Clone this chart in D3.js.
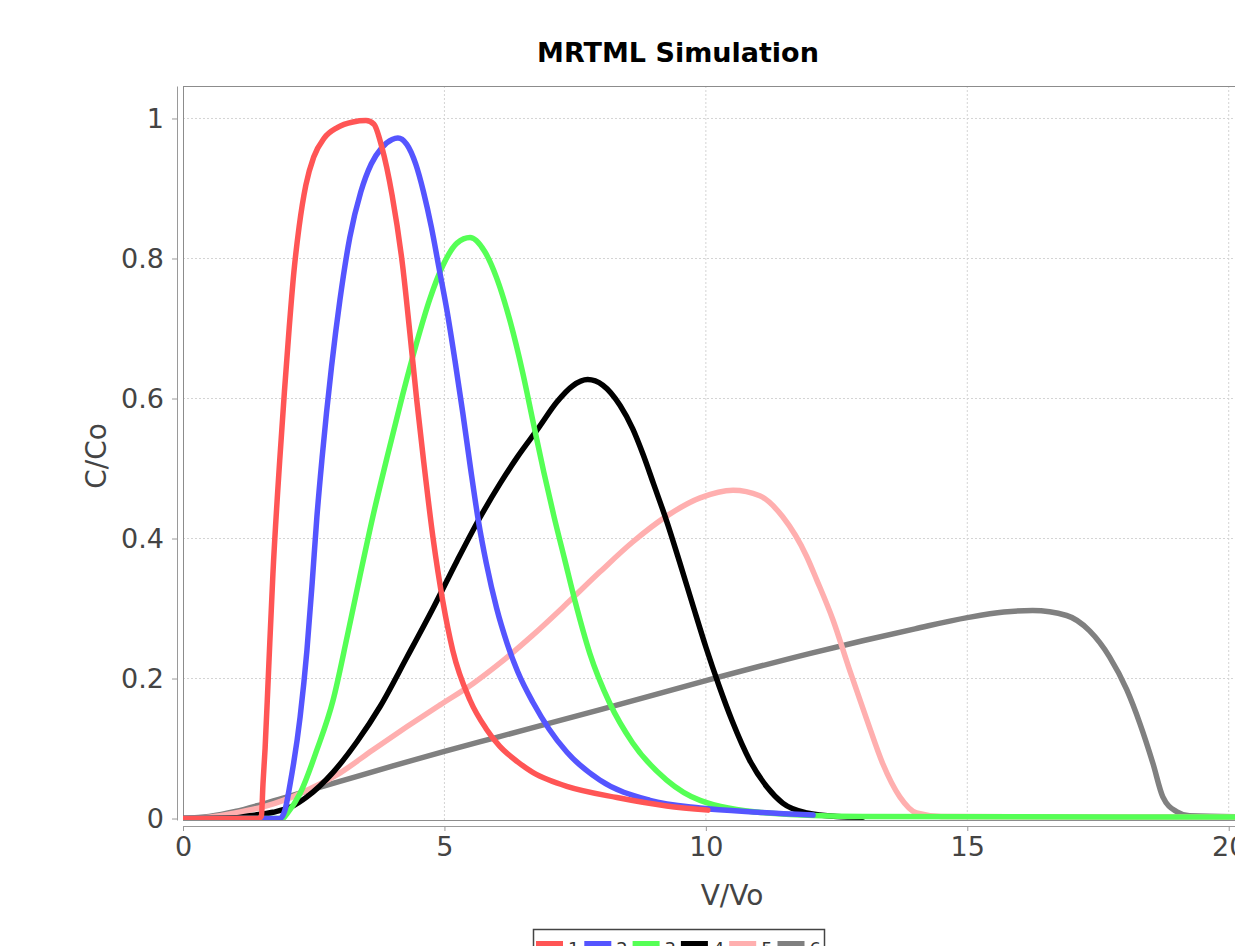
<!DOCTYPE html>
<html><head><meta charset="utf-8">
<script src="https://cdn.jsdelivr.net/npm/d3@7"></script>
<style>
html,body{margin:0;padding:0;background:#fff;overflow:hidden;}
svg{display:block;}
text{font-family:"DejaVu Sans",sans-serif;}
</style></head>
<body>
<svg id="chart" width="1235" height="946"></svg>
<script>
// ---- data ----
const titleText = "MRTML Simulation";
const xLabel = "V/Vo";
const yLabel = "C/Co";
const xTicks = [0, 5, 10, 15, 20];
const yTicks = [0, 0.2, 0.4, 0.6, 0.8, 1];
const yTickLabels = ["0", "0.2", "0.4", "0.6", "0.8", "1"];
const seriesNames = ["1", "2", "3", "4", "5", "6"];
const seriesColors = ["#ff5555", "#5555ff", "#55ff55", "#000000", "#ffafaf", "#808080"];

const s1 = [[0,0],[1.45,0],[1.5,0.004],[1.53,0.05],[1.57,0.1],[1.63,0.2],[1.72,0.35],[1.85,0.512],[1.94,0.61],[2.03,0.7],[2.12,0.78],[2.22,0.845],[2.35,0.905],[2.5,0.945],[2.7,0.972],[2.95,0.987],[3.25,0.995],[3.5,0.997],[3.65,0.992],[3.8,0.96],[4.0,0.89],[4.2,0.79],[4.34,0.693],[4.47,0.598],[4.6,0.512],[4.78,0.402],[4.97,0.31],[5.16,0.24],[5.49,0.169],[5.8,0.128],[6.06,0.103],[6.4,0.081],[6.69,0.066],[7.0,0.055],[7.34,0.046],[8.3,0.03],[9.25,0.018],[10.04,0.012]];
const s2 = [[0,0],[1.85,0],[1.95,0.012],[2.05,0.05],[2.24,0.145],[2.37,0.24],[2.47,0.336],[2.56,0.43],[2.66,0.515],[2.84,0.645],[3.0,0.74],[3.19,0.83],[3.4,0.895],[3.6,0.935],[3.8,0.958],[4.0,0.97],[4.11,0.972],[4.28,0.963],[4.45,0.935],[4.6,0.895],[4.75,0.845],[4.9,0.785],[5.05,0.725],[5.2,0.655],[5.35,0.58],[5.5,0.5],[5.65,0.425],[5.8,0.365],[6.0,0.3],[6.2,0.25],[6.4,0.21],[6.7,0.165],[7.0,0.128],[7.34,0.095],[7.97,0.055],[8.93,0.026],[9.89,0.015],[11,0.009],[12.05,0.005]];
const s3 = [[0,0],[1.9,0],[2.0,0.008],[2.24,0.036],[2.56,0.098],[2.87,0.169],[3.14,0.26],[3.38,0.345],[3.63,0.431],[3.9,0.515],[4.2,0.605],[4.47,0.68],[4.72,0.742],[4.97,0.79],[5.24,0.822],[5.49,0.83],[5.77,0.81],[6.0,0.772],[6.25,0.712],[6.5,0.636],[6.7,0.565],[6.9,0.495],[7.1,0.43],[7.3,0.37],[7.5,0.31],[7.78,0.236],[8.16,0.165],[8.6,0.108],[9.25,0.055],[9.89,0.026],[11.17,0.008],[13,0.003],[21,0.002]];
const s4 = [[0,0],[1.0,0.001],[1.28,0.004],[1.72,0.009],[2.05,0.016],[2.37,0.031],[2.87,0.066],[3.33,0.11],[3.77,0.16],[4.28,0.23],[4.78,0.3],[5.24,0.368],[5.68,0.43],[6.06,0.478],[6.4,0.517],[6.8,0.558],[7.15,0.595],[7.45,0.618],[7.74,0.627],[8.03,0.619],[8.36,0.59],[8.6,0.557],[8.8,0.52],[9.0,0.478],[9.25,0.425],[9.5,0.366],[9.75,0.305],[10.0,0.245],[10.25,0.19],[10.5,0.14],[10.84,0.083],[11.17,0.045],[11.47,0.022],[11.93,0.008],[12.5,0.003],[13,0.002]];
const s5 = [[0,0],[0.5,0.002],[1,0.008],[1.5,0.016],[2,0.028],[2.5,0.045],[3.0,0.065],[3.63,0.098],[4.28,0.131],[4.91,0.162],[5.55,0.193],[6.06,0.222],[6.69,0.262],[7.34,0.307],[7.97,0.352],[8.6,0.395],[9.25,0.432],[9.89,0.458],[10.52,0.469],[11.03,0.461],[11.47,0.431],[11.93,0.374],[12.12,0.341],[12.43,0.284],[12.75,0.212],[13.08,0.141],[13.38,0.079],[13.71,0.031],[14.03,0.008],[14.5,0.003],[21,0.002]];
const s6 = [[0,0],[0.5,0.003],[1,0.01],[1.5,0.02],[2,0.031],[3,0.053],[4,0.075],[5,0.096],[6,0.116],[8,0.156],[10,0.197],[12,0.236],[13,0.254],[14,0.271],[15,0.287],[15.7,0.295],[16.25,0.297],[16.9,0.29],[17.34,0.268],[17.72,0.231],[18.05,0.184],[18.3,0.136],[18.55,0.079],[18.74,0.031],[19.0,0.01],[19.25,0.004],[21,0.002]];
const seriesData = [s1, s2, s3, s4, s5, s6];

// ---- layout ----
const svg = d3.select("#chart");
const plotL = 183, plotT = 86, plotB = 820, plotR = 1281;
const x = d3.scaleLinear().domain([0, 21]).range([plotL, plotR]);
const y = d3.scaleLinear().domain([-0.0021, 1.0464]).range([plotB, plotT]);

svg.append("defs").append("clipPath").attr("id","clip")
  .append("rect").attr("x",plotL).attr("y",plotT).attr("width",plotR-plotL).attr("height",plotB-plotT);

// grid
const grid = svg.append("g");
grid.selectAll(".vg").data(xTicks.filter(d=>d>0)).enter().append("line")
  .attr("x1",d=>x(d)).attr("x2",d=>x(d)).attr("y1",plotT).attr("y2",plotB)
  .attr("stroke","#d4d4d4").attr("stroke-width",1).attr("stroke-dasharray","2,2");
grid.selectAll(".hg").data(yTicks.filter(d=>d>0)).enter().append("line")
  .attr("x1",plotL).attr("x2",plotR).attr("y1",d=>y(d)).attr("y2",d=>y(d))
  .attr("stroke","#d4d4d4").attr("stroke-width",1).attr("stroke-dasharray","2,2");

// plot frame
svg.append("rect").attr("x",plotL+0.5).attr("y",plotT+0.5).attr("width",plotR-plotL).attr("height",plotB-plotT)
  .attr("fill","none").attr("stroke","#8c8c8c").attr("stroke-width",1);

// axes
const xAxis = d3.axisBottom(x).tickValues(xTicks).tickFormat(d3.format("d")).tickSizeInner(5).tickSizeOuter(0).tickPadding(6);
const gx = svg.append("g").attr("transform",`translate(0,${plotB+6})`).call(xAxis);
gx.select(".domain").attr("stroke","#9a9a9a");
gx.selectAll(".tick line").attr("stroke","#9a9a9a");
gx.selectAll(".tick text").attr("font-family","DejaVu Sans").attr("font-size",27).attr("fill","#444");

const yAxis = d3.axisLeft(y).tickValues(yTicks).tickFormat((d,i)=>yTickLabels[i]).tickSizeInner(5).tickSizeOuter(0).tickPadding(8);
const gy = svg.append("g").attr("transform",`translate(${plotL-6},0)`).call(yAxis);
gy.select(".domain").attr("stroke","#9a9a9a");
gy.selectAll(".tick line").attr("stroke","#9a9a9a");
gy.selectAll(".tick text").attr("font-family","DejaVu Sans").attr("font-size",27).attr("fill","#444");

// lines
const line = d3.line().x(d=>x(d[0])).y(d=>y(d[1])).curve(d3.curveMonotoneX);
const lg = svg.append("g").attr("clip-path","url(#clip)");
for (let i = seriesData.length-1; i >= 0; i--) {
  lg.append("path").attr("d", line(seriesData[i])).attr("fill","none")
    .attr("stroke", seriesColors[i]).attr("stroke-width",5.5).attr("stroke-linejoin","round").attr("stroke-linecap","round");
}

// title & labels
svg.append("text").attr("x",678).attr("y",62).attr("text-anchor","middle")
  .attr("font-size",27).attr("font-weight","bold").attr("fill","#000").text(titleText);
svg.append("text").attr("x",732).attr("y",905).attr("text-anchor","middle")
  .attr("font-size",28).attr("fill","#444").text(xLabel);
svg.append("text").attr("transform","translate(106,456) rotate(-90)").attr("text-anchor","middle")
  .attr("font-size",28).attr("fill","#444").text(yLabel);

// legend
const legX = 533, legY = 929, legW = 291;
svg.append("rect").attr("x",legX+0.5).attr("y",legY+0.5).attr("width",legW).attr("height",40)
  .attr("fill","#fff").attr("stroke","#444").attr("stroke-width",1.5);
const li = svg.append("g").selectAll("g").data(seriesNames).enter().append("g")
  .attr("transform",(d,i)=>`translate(${legX+3+i*48.3},0)`);
li.append("rect").attr("x",0).attr("y",941).attr("width",27).attr("height",6).attr("fill",(d,i)=>seriesColors[i]);
li.append("text").attr("x",32).attr("y",955).attr("font-size",18).attr("fill","#333").text(d=>d);
</script>
</body></html>
